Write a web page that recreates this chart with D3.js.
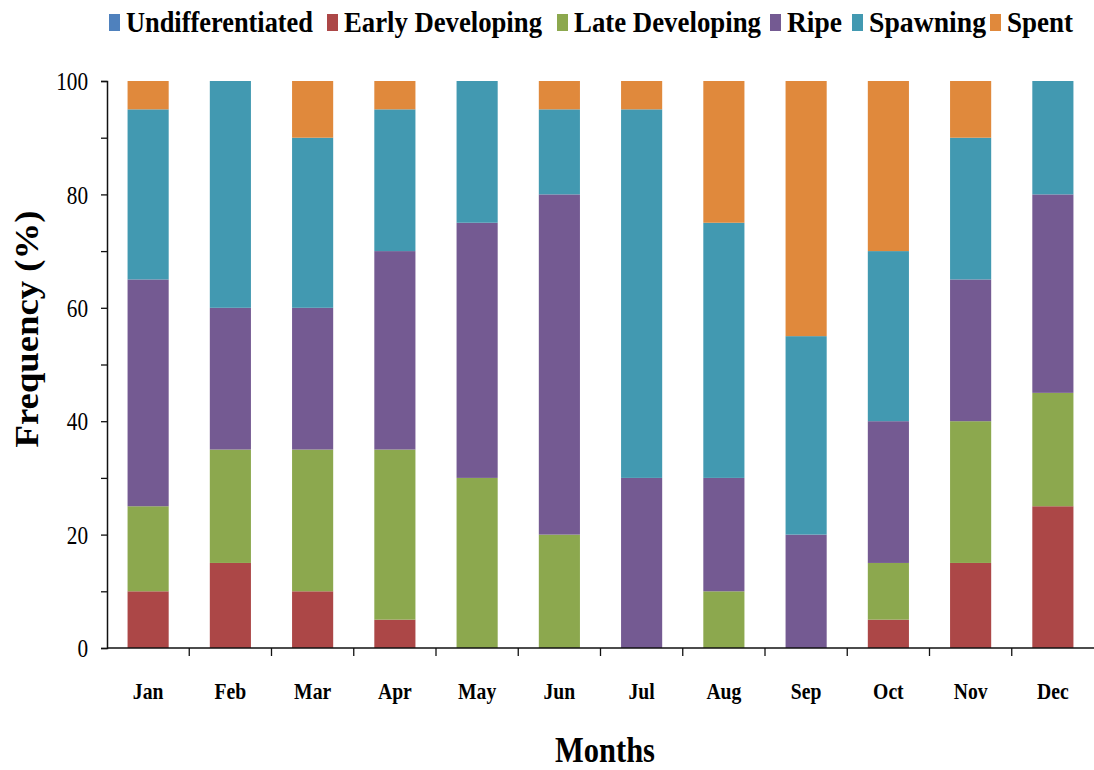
<!DOCTYPE html>
<html>
<head>
<meta charset="utf-8">
<script src="https://cdn.jsdelivr.net/npm/d3@7"></script>
<style>
  html, body { margin: 0; padding: 0; background: #fff; }
  svg { display: block; }
  text { font-family: "Liberation Serif", "Times New Roman", serif; fill: #000; }
</style>
</head>
<body>
<svg id="chart" width="1094" height="770"></svg>
<script>
// Monthly gonad maturity stage frequencies (%)
const months = ["Jan","Feb","Mar","Apr","May","Jun","Jul","Aug","Sep","Oct","Nov","Dec"];
const stages = ["Undifferentiated","Early Developing","Late Developing","Ripe","Spawning","Spent"];
const undifferentiated = [0,0,0,0,0,0,0,0,0,0,0,0];
const earlyDeveloping  = [10,15,10,5,0,0,0,0,0,5,15,25];
const lateDeveloping   = [15,20,25,30,30,20,0,10,0,10,25,20];
const ripe             = [40,25,25,35,45,60,30,20,20,25,25,35];
const spawning         = [30,40,30,25,25,15,65,45,35,30,25,20];
const spent            = [5,0,10,5,0,5,5,25,45,30,10,0];
const yTicks = [0,10,20,30,40,50,60,70,80,90,100];
const colors = ["#4F81BD","#AC4747","#8CA84E","#745A92","#4299B1","#E0893C"];

const seriesValues = [undifferentiated, earlyDeveloping, lateDeveloping, ripe, spawning, spent];
const rows = months.map((m, i) => {
  const r = { month: m };
  stages.forEach((s, k) => { r[s] = seriesValues[k][i]; });
  return r;
});

const svg = d3.select("#chart");
const margin = { left: 107, right: 0, top: 81, bottom: 122 };
const W = 1094, H = 770;

const x = d3.scaleBand().domain(months).range([margin.left, W - margin.right]).paddingInner(0.5).paddingOuter(0.25);
const xb = d3.scaleBand().domain(months).range([margin.left, W - margin.right]);
const y = d3.scaleLinear().domain([0, 100]).range([H - margin.bottom, margin.top]);

const stacked = d3.stack().keys(stages)(rows);
const color = d3.scaleOrdinal().domain(stages).range(colors);

// stacked bars
svg.append("g").selectAll("g").data(stacked).join("g")
  .attr("fill", d => color(d.key))
  .selectAll("rect").data(d => d).join("rect")
  .attr("x", d => x(d.data.month))
  .attr("width", x.bandwidth())
  .attr("y", d => y(d[1]))
  .attr("height", d => Math.max(0, y(d[0]) - y(d[1])));

// y axis (labels every 20, ticks every 10)
const yAxis = svg.append("g").attr("transform", `translate(${margin.left},0)`)
  .call(d3.axisLeft(y).tickValues(yTicks).tickSize(6).tickFormat(""));
yAxis.select(".domain").attr("stroke", "#111").attr("stroke-width", 1.5);
yAxis.selectAll(".tick line").attr("stroke", "#111").attr("stroke-width", 1.3);
yAxis.selectAll(".tick").filter(d => d % 20 === 0)
  .append("text")
  .attr("transform", "translate(-19,0) scale(0.85,1)")
  .attr("text-anchor", "end").attr("dy", "0.35em")
  .attr("font-size", 25)
  .style("fill", "#000")
  .text(d => d);

// x axis: ticks at category boundaries
const xAxisG = svg.append("g").attr("transform", `translate(0,${y(0)})`);
xAxisG.append("line").attr("x1", margin.left).attr("x2", W).attr("y1", 0).attr("y2", 0)
  .attr("stroke", "#111").attr("stroke-width", 1.5);
xAxisG.selectAll("line.tk").data(months.slice(1)).join("line").attr("class", "tk")
  .attr("x1", d => xb(d)).attr("x2", d => xb(d)).attr("y1", 0).attr("y2", 8)
  .attr("stroke", "#111").attr("stroke-width", 1.3);
xAxisG.selectAll("text").data(months).join("text")
  .attr("transform", d => `translate(${x(d) + x.bandwidth() / 2},51) scale(0.82,1)`)
  .attr("text-anchor", "middle").attr("font-size", 24).attr("font-weight", "bold")
  .text(d => d);

// axis titles
svg.append("text").attr("transform", `translate(38,329) rotate(-90)`)
  .attr("text-anchor", "middle").attr("font-size", 34).attr("font-weight", "bold")
  .attr("textLength", 237).attr("lengthAdjust", "spacingAndGlyphs")
  .text("Frequency (%)");
svg.append("text").attr("x", 605).attr("y", 762)
  .attr("text-anchor", "middle").attr("font-size", 35).attr("font-weight", "bold")
  .attr("textLength", 100).attr("lengthAdjust", "spacingAndGlyphs")
  .text("Months");

// legend
const legendX = [109, 327, 557, 770, 852, 990];
const legendW = [187, 198, 187, 55, 117, 66];
const lg = svg.append("g").selectAll("g").data(stages).join("g")
  .attr("transform", (d, i) => `translate(${legendX[i]},0)`);
lg.append("rect").attr("x", 0).attr("y", 14).attr("width", 11).attr("height", 17).attr("fill", d => color(d));
lg.append("text").attr("x", 17).attr("y", 32).attr("font-size", 29).attr("font-weight", "bold")
  .attr("textLength", (d, i) => legendW[i]).attr("lengthAdjust", "spacingAndGlyphs")
  .text(d => d);
</script>
</body>
</html>
